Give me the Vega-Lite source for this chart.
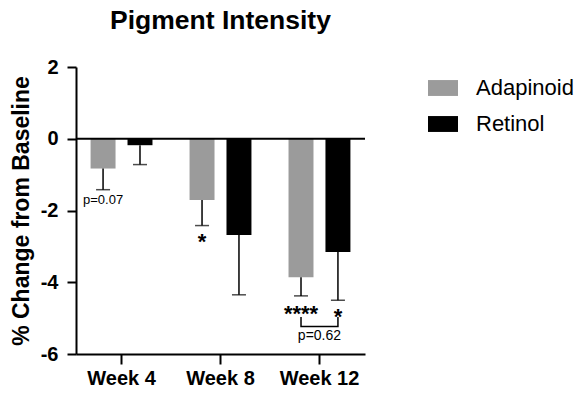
{
  "$schema": "https://vega.github.io/schema/vega-lite/v6.json",
  "autosize": "none",
  "padding": {"left": 76, "top": 67, "right": 214, "bottom": 42},
  "width": 289,
  "height": 287,
  "background": "white",
  "config": {
    "font": "Liberation Sans",
    "view": {"stroke": null},
    "axis": {"grid": false, "domainColor": "black", "domainWidth": 2, "tickColor": "black", "tickWidth": 2, "labelColor": "black", "titleColor": "black"}
  },
  "title": {"text": "Pigment Intensity", "fontSize": 26.5, "fontWeight": "bold", "anchor": "middle", "offset": 23, "color": "black", "font": "Liberation Sans"},
  "datasets": {
    "bars": [
      {"week": "Week 4", "group": "Adapinoid", "value": -0.83, "lower": -1.42},
      {"week": "Week 4", "group": "Retinol", "value": -0.18, "lower": -0.72},
      {"week": "Week 8", "group": "Adapinoid", "value": -1.71, "lower": -2.42},
      {"week": "Week 8", "group": "Retinol", "value": -2.68, "lower": -4.35},
      {"week": "Week 12", "group": "Adapinoid", "value": -3.86, "lower": -4.38},
      {"week": "Week 12", "group": "Retinol", "value": -3.16, "lower": -4.5}
    ],
    "stars": [
      {"week": "Week 8", "group": "Adapinoid", "y": -3.06, "label": "*"},
      {"week": "Week 12", "group": "Adapinoid", "y": -5.08, "label": "****"},
      {"week": "Week 12", "group": "Retinol", "y": -5.16, "label": "*"}
    ],
    "pvals": [
      {"week": "Week 4", "group": "Adapinoid", "y": -1.81, "label": "p=0.07"}
    ],
    "pgroup": [
      {"week": "Week 12", "y": -5.61, "label": "p=0.62"}
    ],
    "bracket": [
      {"week": "Week 12", "group": "Adapinoid", "y": -4.97, "o": 1},
      {"week": "Week 12", "group": "Adapinoid", "y": -5.23, "o": 2},
      {"week": "Week 12", "group": "Retinol", "y": -5.23, "o": 3},
      {"week": "Week 12", "group": "Retinol", "y": -4.97, "o": 4}
    ],
    "zero": [{"y": 0}]
  },
  "encoding": {
    "x": {"field": "week", "type": "nominal", "sort": ["Week 4", "Week 8", "Week 12"],
      "scale": {"domain": ["Week 4", "Week 8", "Week 12"], "paddingInner": 0.3, "paddingOuter": 0.11},
      "axis": {"title": null, "labelAngle": 0, "labelFontSize": 20, "labelFontWeight": "bold", "tickSize": 10, "labelPadding": 4}}
  },
  "layer": [
    {
      "data": {"name": "bars"},
      "mark": {"type": "bar"},
      "encoding": {
        "xOffset": {"field": "group", "type": "nominal", "scale": {"domain": ["Adapinoid", "Retinol"], "paddingInner": 0.324, "paddingOuter": 0.1}},
        "y": {"field": "value", "type": "quantitative",
          "scale": {"domain": [-6, 2], "nice": false, "zero": false},
          "axis": {"title": "% Change from Baseline", "titleFontSize": 23, "titleFontWeight": "bold", "titlePadding": 7, "values": [-6, -4, -2, 0, 2], "labelExpr": "'' + datum.value", "labelFontSize": 20, "labelFontWeight": "bold", "tickSize": 9, "labelPadding": 9}},
        "y2": {"datum": 0},
        "color": {"field": "group", "type": "nominal",
          "scale": {"domain": ["Adapinoid", "Retinol"], "range": ["#9b9b9b", "#000000"]},
          "legend": {"title": null, "orient": "none", "legendX": 352, "legendY": 6, "padding": 0,
            "symbolType": "M-1,-0.53H1V0.53H-1Z", "symbolSize": 900, "symbolStrokeWidth": 0,
            "labelFontSize": 22, "labelOffset": 18, "rowPadding": 10, "labelColor": "black", "labelFont": "Liberation Sans"}}
      }
    },
    {
      "data": {"name": "bars"},
      "mark": {"type": "rule", "color": "black", "strokeWidth": 1.5},
      "encoding": {
        "xOffset": {"field": "group", "type": "nominal"},
        "y": {"field": "value", "type": "quantitative"},
        "y2": {"field": "lower"}
      }
    },
    {
      "data": {"name": "bars"},
      "mark": {"type": "tick", "color": "black", "thickness": 1.5, "size": 14, "orient": "horizontal"},
      "encoding": {
        "xOffset": {"field": "group", "type": "nominal"},
        "y": {"field": "lower", "type": "quantitative"}
      }
    },
    {
      "data": {"name": "zero"},
      "mark": {"type": "rule", "color": "black", "strokeWidth": 2},
      "encoding": {"y": {"field": "y", "type": "quantitative"}, "x": {"value": 0}, "x2": {"value": 289}}
    },
    {
      "data": {"name": "stars"},
      "mark": {"type": "text", "fontSize": 22, "fontWeight": "bold", "baseline": "alphabetic", "color": "black"},
      "encoding": {
        "xOffset": {"field": "group", "type": "nominal"},
        "y": {"field": "y", "type": "quantitative"},
        "text": {"field": "label"}
      }
    },
    {
      "data": {"name": "pvals"},
      "mark": {"type": "text", "fontSize": 13, "baseline": "alphabetic", "color": "black"},
      "encoding": {
        "xOffset": {"field": "group", "type": "nominal"},
        "y": {"field": "y", "type": "quantitative"},
        "text": {"field": "label"}
      }
    },
    {
      "data": {"name": "pgroup"},
      "mark": {"type": "text", "fontSize": 14, "baseline": "alphabetic", "color": "black"},
      "encoding": {
        "y": {"field": "y", "type": "quantitative"},
        "text": {"field": "label"}
      }
    },
    {
      "data": {"name": "bracket"},
      "mark": {"type": "line", "color": "black", "strokeWidth": 1.5},
      "encoding": {
        "xOffset": {"field": "group", "type": "nominal"},
        "y": {"field": "y", "type": "quantitative"},
        "order": {"field": "o"}
      }
    }
  ]
}
